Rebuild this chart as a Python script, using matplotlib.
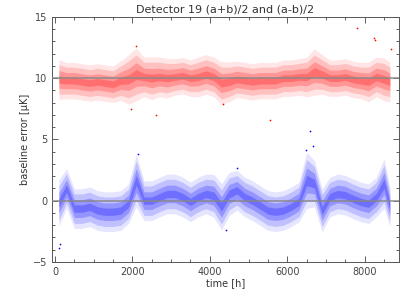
import matplotlib
matplotlib.use("Agg")
import matplotlib.pyplot as plt
import numpy as np
from matplotlib.ticker import MultipleLocator

# Binned read-off of the two point clouds (200 h bins, centre times)
bin_mid_h = [100, 300, 500, 700, 900, 1100, 1300, 1500, 1700, 1900,
             2100, 2300, 2500, 2700, 2900, 3100, 3300, 3500, 3700, 3900,
             4100, 4300, 4500, 4700, 4900, 5100, 5300, 5500, 5700, 5900,
             6100, 6300, 6500, 6700, 6900, 7100, 7300, 7500, 7700, 7900,
             8100, 8300, 8500, 8650]

sum_mean = [9.9, 9.8, 9.8, 9.7, 9.6, 9.7, 9.6, 9.5, 9.8, 9.9,
            10.3, 10.1, 10.0, 10.1, 10.0, 10.1, 10.2, 10.0, 10.1, 10.3,
            10.1, 9.6, 9.7, 9.9, 9.8, 9.7, 9.8, 9.8, 9.8, 10.0,
            10.0, 10.1, 10.1, 10.5, 10.3, 10.0, 10.0, 10.1, 9.9, 9.8,
            9.7, 10.1, 9.9, 9.7]
sum_spread = [1.2, 1.1, 1.1, 1.1, 1.1, 1.1, 1.1, 1.1, 1.2, 1.5,
              1.6, 1.2, 1.3, 1.2, 1.2, 1.1, 1.1, 1.1, 1.2, 1.2,
              1.2, 1.3, 1.2, 1.1, 1.1, 1.1, 1.1, 1.1, 1.1, 1.1,
              1.1, 1.1, 1.2, 1.4, 1.2, 1.1, 1.1, 1.1, 1.1, 1.1,
              1.2, 1.2, 1.3, 1.2]

diff_mean = [-0.2, 1.0, -0.65, -0.65, -0.5, -0.8, -0.9, -0.9, -0.8, -0.25,
             1.65, 0.0, 0.0, 0.3, 0.55, 0.55, 0.3, -0.1, 0.3, 0.55,
             0.4, -0.5, 0.55, 0.85, 0.3, 0.0, -0.4, -0.8, -0.9, -0.8,
             -0.5, -0.1, 1.65, 1.4, -0.8, 0.3, 0.55, 0.45, 0.15, -0.1,
             -0.25, 0.3, 1.4, -0.5]
diff_spread = [1.4, 1.2, 1.2, 1.2, 1.2, 1.2, 1.2, 1.2, 1.2, 1.2,
               1.6, 1.2, 1.2, 1.2, 1.2, 1.2, 1.2, 1.2, 1.2, 1.2,
               1.3, 1.4, 1.3, 1.2, 1.2, 1.2, 1.2, 1.2, 1.2, 1.2,
               1.2, 1.2, 1.7, 1.4, 1.3, 1.2, 1.2, 1.2, 1.2, 1.2,
               1.2, 1.2, 1.5, 1.2]

# isolated points
sum_out_t = [2100, 1960, 2600, 7790, 8230, 8260, 5550, 4350, 8680]
sum_out_v = [12.6, 7.5, 7.0, 14.1, 13.3, 13.1, 6.6, 7.9, 12.4]
diff_out_t = [100, 6580, 6660, 2150, 6480, 4420, 130, 4700]
diff_out_v = [-3.9, 5.7, 4.5, 3.8, 4.1, -2.4, -3.5, 2.7]


def cloud(ax, mean, spread, color):
    m = np.asarray(mean)
    s = np.asarray(spread)
    for k, a in [(1.35, 0.10), (1.0, 0.16), (0.6, 0.22), (0.25, 0.25)]:
        ax.fill_between(bin_mid_h, m - k * s, m + k * s, color=color,
                        alpha=a, linewidth=0, zorder=2)


fig = plt.figure(figsize=(4.15, 2.97), dpi=100)
ax = fig.add_axes([0.125, 0.118, 0.836, 0.825])

cloud(ax, sum_mean, sum_spread, "#ff0000")
cloud(ax, diff_mean, diff_spread, "#0000ff")
ax.scatter(sum_out_t, sum_out_v, s=1.5, color="#ff0000", linewidths=0,
           zorder=3)
ax.scatter(diff_out_t, diff_out_v, s=1.5, color="#0000ff", linewidths=0,
           zorder=3)

ax.axhline(10, color="#888888", linewidth=1.3, alpha=0.8, zorder=4)
ax.axhline(0, color="#888888", linewidth=1.3, alpha=0.8, zorder=4)

ax.set_xlim(-80, 8880)
ax.set_ylim(-5, 15)
ax.xaxis.set_major_locator(MultipleLocator(2000))
ax.xaxis.set_minor_locator(MultipleLocator(500))
ax.yaxis.set_major_locator(MultipleLocator(5))
ax.yaxis.set_minor_locator(MultipleLocator(1))
ax.tick_params(which="both", direction="in", top=True, right=True,
               labelsize=7, colors="#444444", width=0.6)
ax.tick_params(which="major", length=4)
ax.tick_params(which="minor", length=2)
for sp in ax.spines.values():
    sp.set_color("#555555")
    sp.set_linewidth(0.7)

ax.set_title("Detector 19 (a+b)/2 and (a-b)/2", fontsize=8, color="#333333",
             pad=3)
ax.set_xlabel("time [h]", fontsize=7, color="#333333", labelpad=1)
ax.set_ylabel("baseline error [\u03bcK]", fontsize=7, color="#333333",
              labelpad=2)

fig.savefig("out.png", dpi=100)
